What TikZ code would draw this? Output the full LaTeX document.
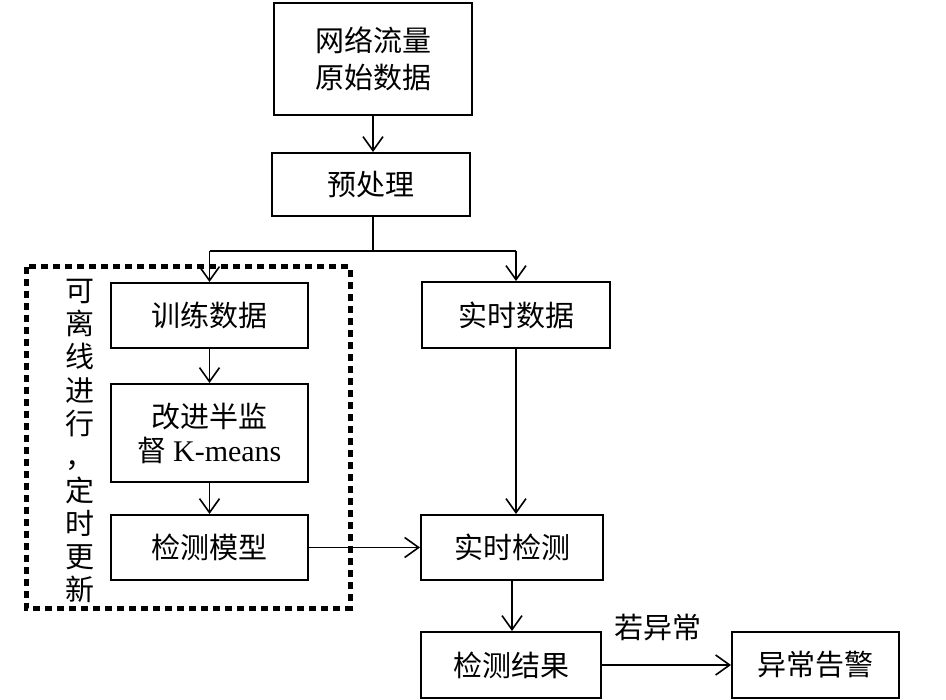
\documentclass[tikz,border=0pt]{standalone}
\usepackage{fontspec}
\setmainfont{Liberation Serif}
\newfontfamily\cjk{Noto Sans CJK SC}[Scale=1.0]
\usetikzlibrary{arrows.meta}
\begin{document}
\begin{tikzpicture}[x=1pt,y=-1pt,
  box/.style={draw,line width=2pt,rectangle,inner sep=0pt,align=center,
    font=\fontsize{29}{36}\selectfont\cjk},
  conn/.style={line width=1.6pt,-{Straight Barb[length=14pt,width=20pt,line width=1.6pt]}},
  plain/.style={line width=1.6pt}]
\useasboundingbox (0,0) rectangle (946,700);
\node[box,minimum width=198pt,minimum height=112pt] (raw) at (373,59) {网络流量\\[1pt]原始数据};
\node[box,minimum width=198pt,minimum height=63pt] (pre) at (371,184.5) {预处理};
\node[box,minimum width=197pt,minimum height=65pt] (train) at (209.5,315.5) {训练数据};
\node[box,minimum width=197pt,minimum height=98pt] (km) at (209.5,433) {改进半监\\[-2pt]督 {\rmfamily\fontsize{30}{36}\selectfont K-means}};
\node[box,minimum width=197pt,minimum height=65pt] (model) at (209.5,547.5) {检测模型};
\node[box,minimum width=188pt,minimum height=66pt] (rtdata) at (516,315) {实时数据};
\node[box,minimum width=182pt,minimum height=65pt] (rtdet) at (512,547.5) {实时检测};
\node[box,minimum width=180pt,minimum height=66pt] (result) at (511,665) {检测结果};
\node[box,minimum width=167pt,minimum height=66pt] (alarm) at (815.5,665) {异常告警};
\node[font=\fontsize{29}{36}\selectfont\cjk,inner sep=0pt] (lbl) at (658,628) {若异常};
\node[font=\fontsize{29}{33.3}\selectfont\cjk,align=center,inner sep=0pt] (vt) at (80,441)
  {可\\离\\线\\进\\行\\，\\定\\时\\更\\新};
\draw[line width=5pt,dash pattern=on 7pt off 5pt] (26,267) rectangle (350,608);
\coordinate (split) at (373,251);
\draw[conn] (raw) -- (raw.south |- pre.north);
\draw[plain] (pre.south -| split) -- (split);
\draw[plain] (train.north |- split) -- (rtdata.north |- split);
\draw[conn] (train.north |- split) -- (train.north);
\draw[conn] (rtdata.north |- split) -- (rtdata.north);
\draw[conn] (train) -- (km);
\draw[conn] (km) -- (model);
\draw[conn] (model) -- (rtdet);
\draw[conn] (rtdata) -- (rtdata.south |- rtdet.north);
\draw[conn] (rtdet) -- (rtdet.south |- result.north);
\draw[conn] (result) -- (alarm);
\end{tikzpicture}
\end{document}
